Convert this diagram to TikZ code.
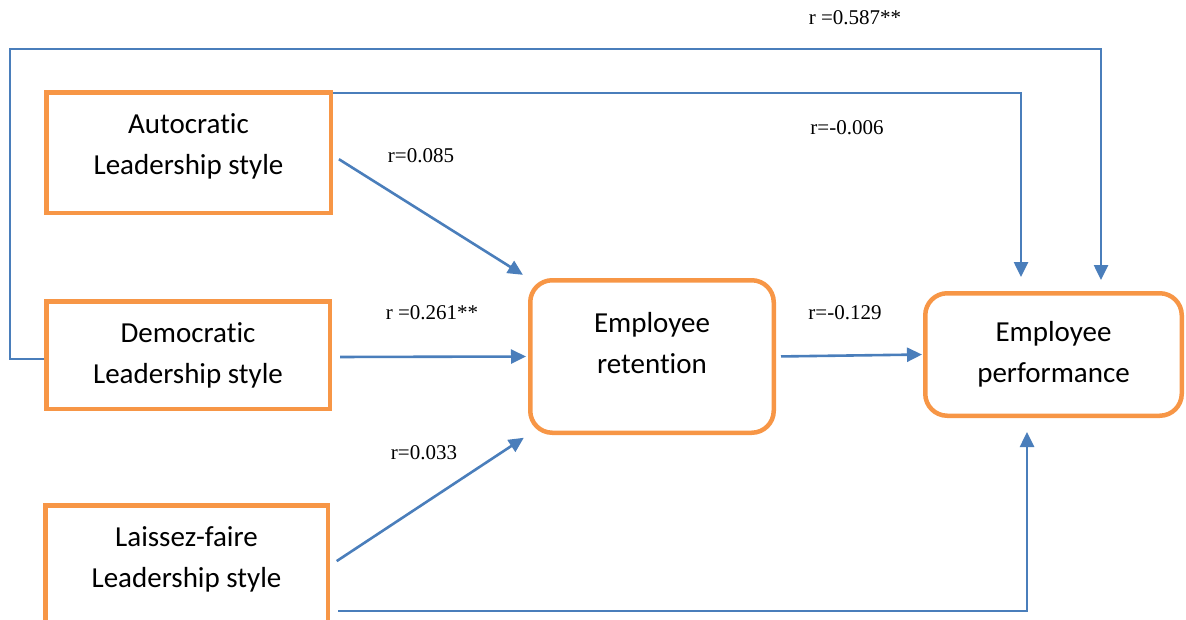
\documentclass[tikz,border=0pt]{standalone}
\usepackage{fontspec}
\setmainfont{Liberation Serif}
\newfontfamily\boxfont[Ligatures=NoCommon]{Carlito}
\usetikzlibrary{arrows.meta}

\definecolor{boxorange}{HTML}{F79646}
\definecolor{linkblue}{HTML}{4A7EBB}

% empty space under the last line, lifts the text in its box
\newcommand{\liftby}[1]{\rule[-#1]{0pt}{#1}}

\begin{document}
\begin{tikzpicture}[x=1pt, y=-1pt,
    factor/.style={draw=boxorange, line width=4.5pt, align=center, font=\boxfont\fontsize{29}{41}\selectfont, inner sep=0pt},
    outcome/.style={factor, rounded corners=22pt},
    link/.style={draw=linkblue, line width=2.6pt, -{Triangle[length=15pt, width=14pt]}},
    coef/.style={font=\fontsize{21}{24}\selectfont}]

    % Fix the page size
    \useasboundingbox (0,0) rectangle (1186,619);

    %% ------
    %% Boxes are placed on fixed coordinates (px of the page)
    %% ----

    % leadership styles
    \node[factor, minimum width=284.5pt, minimum height=120.5pt] (auto) at (188.5,152.5) {Autocratic\\Leadership style\liftby{16pt}};
    \node[factor, minimum width=283.5pt, minimum height=107.5pt] (demo) at (188,355) {Democratic\\Leadership style};
    \node[factor, minimum width=282.5pt, minimum height=120.5pt] (lais) at (186.5,565.5) {Laissez-faire\\Leadership style\liftby{16pt}};

    % retention - performance
    \node[outcome, minimum width=243.5pt, minimum height=152.5pt] (ret) at (652,356.5) {Employee\\retention\liftby{28pt}};
    \node[outcome, minimum width=256.5pt, minimum height=122.5pt] (perf) at (1053.5,354.5) {Employee\\performance\liftby{4pt}};

    % styles -> retention
    \draw[link, shorten <=7pt, shorten >=6pt] ([yshift=-3pt]auto.east) -- (ret.north west);
    \draw[link, shorten <=8pt, shorten >=2pt] ([yshift=-2pt]demo.east) -- (ret.west);
    \draw[link, shorten <=8pt, shorten >=5pt] (lais.east) -- (ret.south west);

    % retention -> performance
    \draw[link, shorten <=5pt, shorten >=1pt] (ret.east) -- (perf.west);

    % direct paths to performance
    \coordinate (loop) at (10,49);
    \draw[link, shorten >=11pt] ([yshift=-4pt]demo.west) -| (loop) -| ([xshift=47.5pt]perf.north);
    \draw[link, shorten >=14pt] ([yshift=-3pt]auto.north east) -| ([xshift=-32.5pt]perf.north);
    \draw[link, shorten <=8pt, shorten >=14pt] ([yshift=-45.5pt]lais.east) -| ([xshift=-26.5pt]perf.south);

    % coefficients
    \node[coef] (c1) at (855,18) {r =0.587**};
    \node[coef] (c2) at (847,128) {r=-0.006};
    \node[coef] (c3) at (421,156) {r=0.085};
    \node[coef] (c4) at (432,313) {r =0.261**};
    \node[coef] (c5) at (424,453) {r=0.033};
    \node[coef] (c6) at (845,313) {r=-0.129};

\end{tikzpicture}
\end{document}
